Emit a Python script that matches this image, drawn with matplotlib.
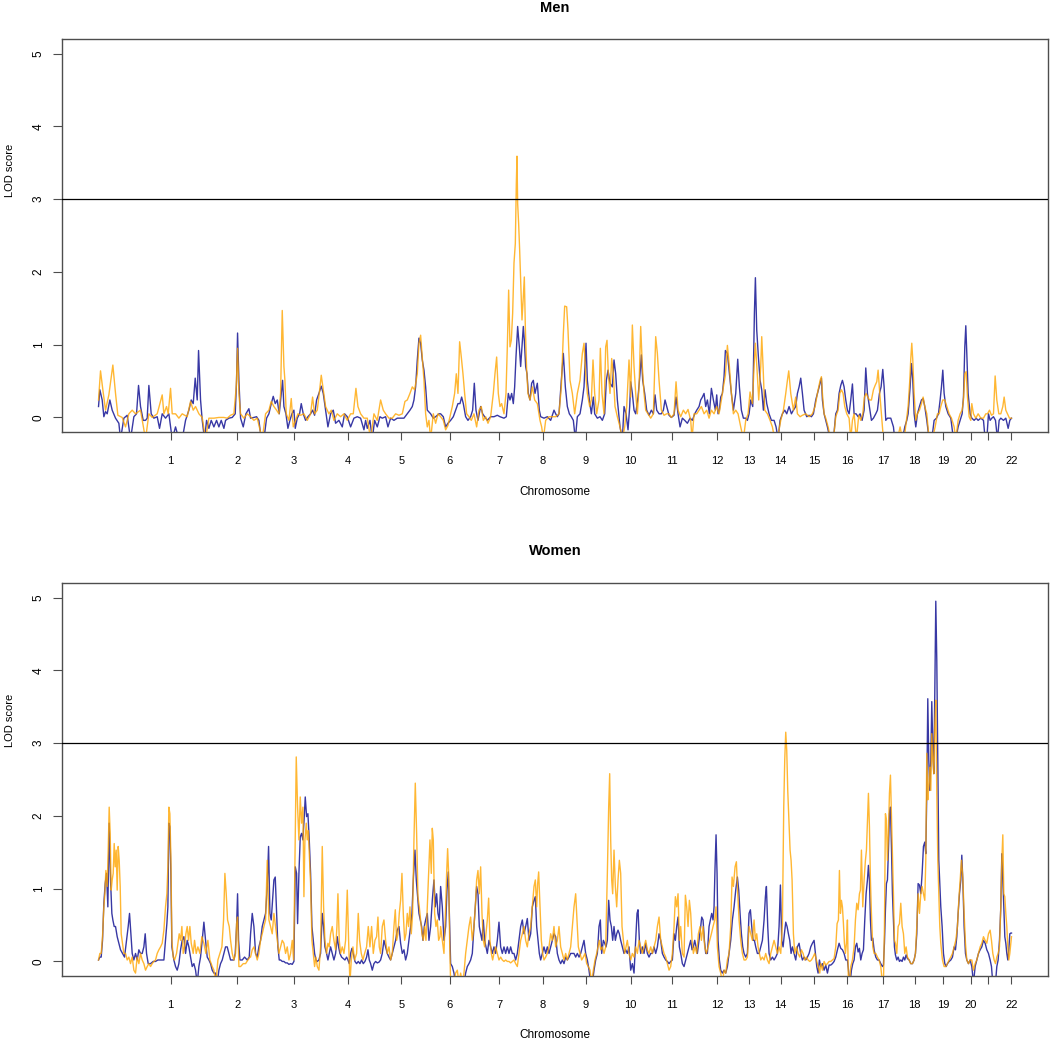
import matplotlib
matplotlib.use("Agg")
import matplotlib.pyplot as plt

plt.rcParams['font.family'] = ['Liberation Sans', 'DejaVu Sans']

# Chromosome end positions (genome position units) and labels
chrom_ends = [216, 416, 586, 748, 908, 1054, 1201, 1333, 1461, 1596, 1719, 1856,
              1951, 2046, 2146, 2246, 2354, 2448, 2533, 2616, 2669, 2738]
chrom_labels = ['1', '2', '3', '4', '5', '6', '7', '8', '9', '10', '11', '12',
                '13', '14', '15', '16', '17', '18', '19', '20', '', '22']
threshold = 3

# ---------------- Men ----------------
men_orange_pos = [
    0, 6, 13, 21, 31, 43, 51, 58, 71, 81, 91, 101, 111, 126, 141, 151, 161, 176, 191, 196,
    204, 209, 216, 221, 231, 241, 251, 266, 276, 284, 291, 301, 311, 321, 331, 346, 361, 376, 386, 396,
    406, 413, 417, 421, 426, 436, 446,
    456, 466, 476, 491, 501, 511, 518, 526, 534, 541, 546, 551, 556, 559, 563, 571, 578, 584, 591, 598,
    606, 616, 626, 636, 642, 648, 656, 662, 668, 674, 681, 691, 698, 706, 716, 726, 736, 746, 756, 764,
    772, 778, 786, 796, 806, 816, 826, 836, 846, 854, 861, 871, 881, 891, 901, 911, 919, 926, 934, 941,
    948, 956, 961, 966, 971, 976, 981, 986, 991, 996, 1004, 1011, 1018,
    1026, 1034, 1041, 1048, 1054, 1061, 1068, 1073, 1078, 1083, 1088, 1093, 1098, 1104, 1111, 1118, 1126, 1134, 1141, 1148,
    1154, 1161, 1168, 1176, 1184, 1189, 1194, 1199, 1204, 1209, 1216, 1222, 1226, 1230, 1234, 1238, 1242, 1246, 1250, 1253,
    1255, 1257, 1260, 1263, 1266, 1270, 1274, 1277, 1280, 1284, 1288, 1294, 1301, 1308, 1316, 1324, 1329, 1334, 1341, 1351,
    1361, 1371, 1381, 1388, 1394, 1398, 1404, 1408, 1414, 1421, 1428, 1436, 1444, 1451, 1456, 1461, 1466, 1473, 1478, 1483,
    1488, 1494, 1501, 1505, 1510, 1516, 1521, 1525, 1529, 1534, 1539, 1544, 1549, 1556, 1564, 1571, 1578, 1584, 1591,
    1596, 1601, 1606, 1611, 1616, 1621, 1626, 1631, 1636, 1641, 1648, 1656, 1664, 1671, 1676, 1681, 1688, 1696, 1704, 1711,
    1718, 1726, 1732, 1738, 1746, 1754, 1761, 1768, 1776, 1780, 1786, 1794, 1801, 1808, 1816, 1824, 1831, 1838, 1846, 1854,
    1861, 1868, 1874, 1880, 1886, 1892, 1898, 1904, 1911, 1918, 1926, 1934, 1941, 1948, 1954, 1961, 1966, 1970, 1975, 1980,
    1986, 1989, 1993, 1998, 2006, 2014, 2021, 2028, 2036, 2046, 2054, 2061, 2066, 2070, 2076, 2084, 2091, 2096, 2104, 2111,
    2121, 2131, 2141, 2149, 2156, 2164, 2168,
    2171, 2176, 2181, 2188, 2196, 2204, 2211, 2218, 2223, 2228, 2233, 2238, 2244, 2251, 2256, 2261, 2266, 2273, 2280, 2286,
    2292, 2297, 2302, 2307, 2312, 2318, 2324, 2329, 2334, 2338, 2343, 2348, 2354, 2361, 2371, 2381, 2396, 2404, 2411, 2416,
    2423, 2428, 2433, 2436, 2439, 2442, 2446, 2451, 2456, 2462, 2468, 2473, 2478, 2484, 2491, 2501, 2509, 2516, 2521, 2526,
    2532, 2538, 2544, 2551, 2558, 2566, 2571, 2578, 2584, 2590, 2594, 2598, 2602, 2606, 2611, 2616, 2619, 2624, 2631, 2638,
    2646, 2654, 2661, 2666, 2672, 2678, 2684, 2689, 2694, 2700, 2706, 2712, 2716, 2721, 2726, 2732, 2738]
men_orange_lod = [
    0.24, 0.64, 0.38, 0.10, 0.31, 0.72, 0.33, 0.03, 0.00, -0.13, 0.05, 0.10, 0.05, 0.10, -0.3, 0.05, 0.00, 0.05, 0.31, 0.05,
    0.15, 0.05, 0.40, 0.05, 0.05, -0.01, 0.05, 0.01, 0.22, 0.10, 0.15, 0.05, 0.00, -0.3, -0.01, -0.01, 0.00, 0.00, -0.01, 0.03,
    0.05, 0.42, 0.95, 0.33, 0.05, -0.01, 0.05,
    0.01, -0.04, -0.01, -0.3, 0.05, 0.10, 0.22, 0.15, 0.10, 0.05, 0.33, 1.47, 0.70, 0.51, 0.05, -0.04, 0.26, -0.13, -0.04, 0.05,
    0.03, 0.05, -0.04, 0.05, 0.28, 0.05, 0.10, 0.33, 0.58, 0.38, 0.15, 0.05, 0.10, -0.04, 0.05, 0.01, 0.05, -0.04, 0.05, 0.05,
    0.40, 0.15, 0.05, -0.01, -0.01, -0.3, 0.05, -0.04, 0.24, 0.10, 0.05, -0.01, -0.01, 0.05, 0.03, 0.05, 0.22, 0.24, 0.33, 0.42,
    0.38, 0.60, 1.02, 1.13, 0.83, 0.51, 0.05, -0.13, -0.04, -0.3, 0.05, -0.08, 0.05,
    0.01, -0.04, -0.17, -0.11, 0.01, 0.15, 0.33, 0.60, 0.33, 1.04, 0.83, 0.60, 0.33, 0.05, 0.01, -0.04, 0.05, -0.13, 0.10, 0.15,
    -0.04, 0.01, -0.08, 0.01, 0.33, 0.60, 0.83, 0.33, 0.15, 0.19, 0.05, 0.33, 0.97, 1.75, 0.97, 1.06, 1.43, 2.12, 2.39, 3.21,
    3.59, 2.94, 2.66, 2.30, 1.89, 1.34, 1.66, 1.93, 1.25, 0.65, 0.33, 0.24, 0.42, 0.24, 0.19, -0.04, -0.13, -0.3, -0.04, 0.01,
    0.01, 0.01, 0.05, 0.42, 1.15, 1.53, 1.52, 1.20, 0.51, 0.33, 0.05, 0.33, 0.51, 0.88, 1.02, 0.60, 0.33, 0.15, 0.24, 0.79,
    0.33, 0.05, 0.24, 0.95, 0.33, 0.05, 0.97, 1.06, 0.60, 0.33, 0.81, 0.60, 0.15, 0.01, -0.13, -0.3, -0.13, 0.15, 0.79,
    0.28, 1.27, 0.70, 0.33, 0.05, 0.42, 1.25, 0.70, 0.33, 0.10, 0.05, -0.01, 0.05, 1.11, 0.88, 0.51, 0.10, 0.03, 0.05, 0.05,
    0.00, 0.05, 0.49, 0.10, 0.01, 0.10, 0.05, 0.11, -0.04, -0.3, 0.05, 0.05, 0.10, 0.15, 0.05, 0.10, -0.01, 0.10, 0.05, 0.15,
    0.05, 0.24, 0.42, 0.58, 0.99, 0.70, 0.33, 0.05, 0.10, 0.05, -0.13, -0.3, -0.04, 0.05, 0.35, 0.19, 0.70, 1.02, 0.65, 0.24,
    0.70, 1.11, 0.70, 0.10, 0.05, -0.04, -0.13, -0.3, -0.3, -0.04, 0.10, 0.33, 0.51, 0.64, 0.33, 0.10, 0.28, 0.05, 0.01, 0.03,
    0.05, 0.01, 0.05, 0.15, 0.33, 0.51, 0.56,
    0.33, 0.05, -0.01, -0.13, -0.3, -0.3, 0.01, 0.10, 0.33, 0.38, 0.33, 0.15, 0.05, -0.01, -0.3, -0.04, 0.05, -0.3, 0.03, -0.04,
    0.05, 0.28, 0.33, 0.28, 0.24, 0.24, 0.38, 0.44, 0.49, 0.65, 0.33, 0.05, -0.3, -0.3, -0.3, -0.3, -0.3, -0.13, -0.3, -0.3,
    -0.04, 0.15, 0.51, 0.81, 1.02, 0.79, 0.33, -0.04, 0.05, 0.10, 0.19, 0.28, 0.15, 0.05, -0.3, -0.3, -0.13, 0.05, 0.05, 0.15,
    0.24, 0.24, 0.15, 0.05, -0.01, -0.13, -0.3, -0.04, 0.05, 0.10, 0.24, 0.60, 0.63, 0.28, 0.01, -0.04, 0.19, 0.05, -0.01, 0.05,
    -0.01, -0.01, 0.05, 0.05, 0.10, 0.03, 0.05, 0.57, 0.24, 0.05, 0.05, 0.15, 0.28, 0.10, 0.05, -0.01, -0.01]

men_blue_pos = [
    0, 4, 11, 16, 21, 26, 34, 41, 51, 61, 66, 76, 86, 96, 106, 114, 120, 126, 134, 141,
    146, 151, 158, 166, 176, 183, 191, 201, 211, 221, 231, 241, 251, 261, 271, 278, 284, 290, 296, 300,
    306, 311, 318, 324, 331, 338, 346, 354, 361, 368, 376, 381, 391, 401, 410, 414, 417, 421, 426, 434,
    442, 451,
    456, 466, 474, 481, 488, 496, 504, 511, 518, 524, 530, 536, 542, 548, 552, 556, 562, 568, 574, 580,
    586, 590, 596, 603, 608, 614, 621, 628, 636, 642, 648, 654, 661, 668, 674, 681, 688, 696, 704, 711,
    721, 731, 738, 746, 756, 766, 776, 786, 796, 801, 806, 814, 821, 828, 836, 844, 851, 861, 868, 876,
    886, 896, 906, 916, 926, 934, 941, 946, 951, 956, 961, 966, 971, 976, 981, 986, 996, 1004, 1011, 1021,
    1026, 1034, 1041, 1048, 1056, 1064, 1071, 1078, 1084, 1089, 1094, 1101, 1108, 1116, 1122, 1127, 1132, 1138, 1146, 1152,
    1158, 1166, 1176, 1186, 1196, 1204, 1216, 1223, 1229, 1234, 1239, 1244, 1248, 1252, 1257, 1262, 1266, 1270, 1274, 1277,
    1281, 1285, 1289, 1294, 1299, 1304, 1309, 1316, 1322, 1326, 1336, 1346, 1356, 1366, 1371, 1376, 1381, 1388, 1394, 1400,
    1406, 1412, 1418, 1424, 1430, 1436, 1444, 1451, 1456, 1462, 1466, 1472, 1478, 1484, 1488, 1496, 1504, 1511, 1518, 1523,
    1528, 1534, 1541, 1546, 1551, 1556, 1564, 1571, 1576, 1582, 1588, 1593,
    1596, 1601, 1606, 1611, 1618, 1624, 1628, 1632, 1638, 1644, 1651, 1658, 1664, 1669, 1674, 1681, 1688, 1694, 1699, 1704,
    1711, 1718, 1726, 1732, 1738, 1744, 1751, 1758, 1766, 1774, 1781, 1788, 1794, 1801, 1806, 1811, 1816, 1821, 1826, 1832,
    1838, 1844, 1850, 1854, 1858, 1862, 1866, 1871, 1876, 1880, 1886, 1892, 1898, 1904, 1911, 1917, 1922, 1928, 1934, 1941,
    1946, 1951, 1956, 1962, 1967, 1970, 1974, 1979, 1984, 1989, 1994, 1999, 2004, 2011, 2018, 2026, 2032, 2038, 2044, 2051,
    2058, 2064, 2071, 2078, 2084, 2091, 2096, 2101, 2106, 2111, 2116, 2124, 2131, 2138, 2144, 2151, 2156, 2161, 2168,
    2171, 2176, 2181, 2186, 2194, 2204, 2211, 2216, 2221, 2226, 2231, 2236, 2241, 2246, 2251, 2256, 2261, 2266, 2272, 2278,
    2284, 2290, 2296, 2301, 2306, 2312, 2318, 2324, 2331, 2336, 2342, 2347, 2352, 2356, 2361, 2366, 2376, 2384, 2388, 2411,
    2418, 2424, 2428, 2434, 2438, 2442, 2446, 2451, 2456, 2462, 2468, 2473, 2478, 2484, 2491, 2499, 2506, 2513, 2519, 2524,
    2528, 2532, 2536, 2541, 2548, 2556, 2564, 2571, 2578, 2584, 2590, 2594, 2598, 2601, 2604, 2608, 2614, 2619, 2626, 2632,
    2638, 2646, 2654, 2659, 2664, 2669, 2674, 2679, 2684, 2690, 2696, 2701, 2706, 2714, 2721, 2728, 2733, 2738]
men_blue_lod = [
    0.15, 0.38, 0.24, 0.01, 0.08, 0.05, 0.24, 0.10, -0.01, -0.08, -0.3, -0.01, 0.03, -0.3, 0.01, 0.05, 0.44, 0.15, -0.04, -0.04,
    -0.01, 0.44, 0.05, -0.01, 0.01, -0.15, 0.05, -0.01, 0.05, -0.3, -0.13, -0.3, -0.3, -0.04, 0.10, 0.24, 0.19, 0.54, 0.24, 0.92,
    0.24, -0.04, -0.3, -0.04, -0.15, -0.04, -0.13, -0.04, -0.13, -0.04, -0.15, -0.04, -0.01, 0.00, 0.05, 0.51, 1.16, 0.51, -0.01, -0.13,
    0.05, 0.12,
    -0.01, 0.00, 0.01, -0.04, -0.3, -0.3, -0.01, 0.05, 0.19, 0.29, 0.19, 0.24, 0.05, 0.33, 0.51, 0.15, 0.05, -0.15, -0.04, 0.05,
    0.10, -0.15, -0.01, 0.05, 0.19, 0.05, -0.04, 0.01, 0.05, 0.10, 0.03, 0.24, 0.33, 0.43, 0.33, 0.10, -0.13, 0.05, 0.10, -0.08,
    -0.04, -0.13, 0.05, 0.01, -0.13, -0.01, 0.01, -0.01, -0.17, -0.04, -0.15, -0.04, -0.3, -0.04, -0.13, 0.01, -0.01, 0.01, -0.13, -0.01,
    -0.04, -0.01, -0.01, -0.01, 0.05, 0.10, 0.15, 0.24, 0.42, 0.79, 1.09, 1.02, 0.79, 0.65, 0.42, 0.10, 0.05, -0.01, 0.01, 0.05,
    0.05, 0.01, -0.13, -0.08, -0.04, 0.01, 0.10, 0.19, 0.19, 0.28, 0.19, 0.01, -0.04, 0.01, 0.10, 0.47, 0.10, -0.04, 0.15, 0.05,
    0.01, -0.04, 0.01, 0.01, 0.03, 0.01, -0.01, 0.01, 0.33, 0.24, 0.33, 0.19, 0.42, 0.83, 1.25, 0.97, 0.70, 0.97, 1.25, 1.06,
    0.70, 0.60, 0.33, 0.24, 0.47, 0.51, 0.33, 0.47, 0.10, 0.01, -0.01, 0.01, -0.04, 0.10, 0.05, 0.01, 0.05, 0.51, 0.88, 0.42,
    0.15, 0.05, 0.01, -0.04, -0.3, 0.01, 0.05, 0.24, 0.42, 1.02, 0.51, 0.24, 0.05, 0.28, 0.05, -0.01, 0.01, -0.04, 0.05, 0.51,
    0.65, 0.47, 0.42, 0.79, 0.60, 0.24, -0.13, -0.3, 0.15, 0.05, -0.17, 0.15,
    0.49, 0.33, 0.10, 0.05, 0.28, 0.60, 0.86, 0.51, 0.33, 0.10, 0.03, 0.10, 0.05, 0.31, 0.10, 0.05, 0.05, 0.10, 0.24, 0.15,
    0.03, 0.00, 0.03, 0.28, 0.05, -0.13, -0.01, -0.04, -0.08, -0.01, -0.04, 0.05, 0.10, 0.15, 0.24, 0.28, 0.33, 0.15, 0.24, 0.05,
    0.40, 0.24, 0.10, 0.31, 0.05, 0.10, 0.28, 0.33, 0.56, 0.92, 0.88, 0.60, 0.33, 0.10, 0.33, 0.80, 0.42, 0.10, -0.01, -0.01,
    -0.04, 0.05, 0.24, 0.15, 1.43, 1.92, 1.20, 0.83, 0.51, 0.38, 0.10, 0.38, 0.19, 0.05, -0.04, -0.04, -0.13, -0.3, -0.04, 0.05,
    0.10, 0.05, 0.15, 0.05, 0.10, 0.15, 0.33, 0.42, 0.54, 0.33, 0.10, 0.01, 0.03, 0.01, 0.05, 0.24, 0.33, 0.42, 0.54,
    0.24, 0.05, -0.04, -0.13, -0.3, -0.3, 0.05, 0.10, 0.33, 0.44, 0.51, 0.42, 0.24, 0.10, 0.05, 0.24, 0.46, 0.05, 0.05, 0.01,
    0.05, -0.04, 0.10, 0.68, 0.33, 0.15, -0.04, -0.01, 0.05, 0.10, 0.33, 0.42, 0.66, 0.42, -0.04, -0.01, -0.01, -0.13, -0.3, -0.3,
    -0.13, -0.04, 0.05, 0.42, 0.74, 0.51, 0.05, -0.13, 0.05, 0.15, 0.24, 0.26, 0.15, -0.04, -0.3, -0.3, -0.04, -0.01, 0.05, 0.24,
    0.42, 0.65, 0.33, 0.15, 0.05, -0.01, -0.3, -0.3, -0.13, -0.04, 0.05, 0.28, 0.97, 1.26, 0.88, 0.33, 0.05, -0.01, -0.04, -0.01,
    -0.04, -0.01, -0.04, -0.3, -0.3, 0.05, -0.04, -0.01, 0.01, -0.04, -0.3, -0.04, -0.01, -0.04, -0.01, -0.15, -0.04, -0.01]

# ---------------- Women ----------------
women_orange_pos = [
    0, 4, 8, 12, 16, 19, 22, 26, 29, 32, 35, 38, 41, 44, 47, 50, 53, 56, 59, 62,
    65, 68, 72, 76, 81, 86, 91, 96, 101, 106, 111, 116, 121, 126, 131, 136, 141, 146, 151, 156,
    161, 166, 171, 176, 181, 186, 191, 196, 201, 205, 208, 211, 214, 217, 220, 224, 228, 234, 238, 242,
    246, 250, 254, 258, 262, 266, 270, 274, 278, 284, 288, 293, 298, 304, 310, 316, 322, 328, 334, 341,
    346, 352, 358, 364, 370, 375, 379, 383, 387, 392, 396, 401, 406, 411, 414, 417, 421, 426, 434, 441,
    448, 454,
    456, 461, 466, 471, 476, 481, 486, 491, 496, 501, 506, 511, 516, 521, 526, 531, 536, 541, 546, 551,
    556, 561, 566, 571, 576, 581, 585, 589, 593, 597, 601, 605, 609, 613, 616, 619, 623, 626, 629, 632,
    636, 640, 644, 648, 652, 656, 661, 666, 671, 675, 679, 684, 688, 692, 696, 701, 706, 711, 715, 718,
    722, 726, 731, 736, 741, 746, 750, 754, 758, 763, 768, 774, 779, 783, 788, 793, 798, 804, 809, 814,
    819, 824, 829, 834, 838, 842, 846, 851, 856, 861, 866, 871, 876, 881, 886, 890, 894, 898, 902, 906,
    910, 914, 918, 922, 926, 930, 934, 938, 942, 946, 950, 954, 958, 962, 966, 970, 974, 978, 982, 986,
    990, 994, 998, 1001, 1004, 1008, 1012, 1016, 1020, 1024,
    1026, 1031, 1036, 1041, 1044, 1047, 1050, 1053, 1056, 1066, 1071, 1076, 1081, 1086, 1091, 1096, 1101, 1106, 1111, 1116,
    1121, 1126, 1130, 1134, 1138, 1142, 1146, 1150, 1154, 1158, 1162, 1166, 1170, 1174, 1178, 1182, 1186, 1191, 1196, 1201,
    1206, 1211, 1216, 1221, 1226, 1231, 1236, 1241, 1246, 1251, 1256, 1261, 1266, 1271, 1276, 1281, 1286, 1291, 1296, 1301,
    1306, 1310, 1314, 1317, 1320, 1324, 1328, 1332, 1336, 1341, 1346, 1351, 1356, 1361, 1366, 1371, 1376, 1381, 1386, 1391,
    1396, 1401, 1406, 1411, 1416, 1421, 1426, 1431, 1435, 1439, 1444, 1449, 1454, 1459, 1464, 1469, 1474, 1479, 1484, 1489,
    1494, 1498, 1502, 1506, 1511, 1516, 1521, 1526, 1530, 1533, 1536, 1539, 1542, 1546, 1550, 1554, 1558, 1562, 1566, 1570,
    1574, 1578, 1582, 1586, 1591,
    1596, 1601, 1606, 1611, 1616, 1621, 1626, 1631, 1636, 1641, 1646, 1651, 1656, 1661, 1666, 1671, 1676, 1681, 1686, 1691,
    1696, 1701, 1706, 1711, 1716, 1721, 1726, 1730, 1734, 1738, 1742, 1746, 1751, 1756, 1760, 1764, 1768, 1772, 1776, 1780,
    1784, 1789, 1794, 1799, 1804, 1808, 1813, 1818, 1823, 1828, 1833, 1838, 1843, 1848, 1852, 1856, 1861, 1866, 1871, 1876,
    1881, 1886, 1891, 1896, 1900, 1904, 1909, 1913, 1917, 1921, 1926, 1931, 1936, 1941, 1946, 1951, 1956, 1961, 1966, 1970,
    1974, 1978, 1982, 1986, 1991, 1996, 2001, 2006, 2011, 2016, 2021, 2026, 2031, 2036, 2041, 2046, 2051, 2055, 2058, 2061,
    2064, 2067, 2070, 2074, 2077, 2080, 2084, 2088, 2093, 2098, 2103, 2108, 2113, 2118, 2123, 2128, 2133, 2138, 2143, 2148,
    2153, 2158, 2163,
    2166, 2171, 2176, 2181, 2186, 2191, 2196, 2201, 2206, 2211, 2215, 2219, 2222, 2225, 2228, 2231, 2234, 2237, 2240, 2243,
    2246, 2249, 2252, 2256, 2261, 2266, 2270, 2274, 2278, 2282, 2285, 2288, 2292, 2296, 2300, 2303, 2306, 2309, 2312, 2315,
    2318, 2322, 2326, 2331, 2336, 2341, 2346, 2351, 2354, 2357, 2360, 2363, 2366, 2369, 2372, 2375, 2378, 2381, 2384, 2387,
    2390, 2394, 2398, 2402, 2406, 2410, 2414, 2418, 2422, 2426, 2431, 2436, 2441, 2446, 2450, 2454, 2458, 2462, 2466, 2470,
    2474, 2478, 2481, 2484, 2487, 2490, 2493, 2496, 2499, 2502, 2505, 2508, 2511, 2514, 2517, 2520, 2523, 2526, 2531, 2536,
    2541, 2546, 2551, 2556, 2561, 2566, 2571, 2576, 2580, 2584, 2588, 2592, 2596, 2600, 2604, 2609, 2614, 2619, 2624, 2629,
    2634, 2639, 2644, 2649, 2654, 2659, 2664, 2669, 2674, 2678, 2682, 2686, 2690, 2694, 2698, 2702, 2706, 2709, 2712, 2715,
    2718, 2721, 2724, 2727, 2730, 2733, 2736, 2738]
women_orange_lod = [
    0.02, 0.11, 0.11, 0.34, 0.75, 0.93, 1.25, 1.03, 1.53, 2.12, 1.76, 0.98, 1.12, 1.21, 1.62, 1.30, 1.53, 0.98, 1.58, 1.39,
    1.03, 0.38, 0.25, 0.11, 0.11, 0.02, 0.06, -0.03, 0.06, -0.12, -0.16, 0.06, -0.03, 0.11, 0.02, -0.03, -0.12, -0.07, -0.03, -0.07,
    -0.03, 0.00, 0.02, 0.11, 0.16, 0.20, 0.25, 0.43, 0.75, 0.93, 1.30, 2.12, 2.03, 1.44, 0.29, 0.06, 0.02, 0.11, 0.25, 0.38,
    0.29, 0.48, 0.11, 0.20, 0.38, 0.48, 0.29, 0.48, 0.25, 0.11, 0.29, 0.11, 0.20, 0.11, 0.34, 0.25, 0.11, 0.29, 0.02, -0.07,
    -0.12, -0.3, 0.02, 0.11, 0.20, 0.57, 1.21, 0.93, 0.57, 0.48, 0.29, 0.11, 0.02, 0.11, 0.52, 0.61, -0.07, -0.07, -0.03, -0.03,
    0.02, 0.06,
    0.06, 0.16, 0.20, 0.11, 0.02, 0.11, 0.29, 0.38, 0.48, 0.57, 1.39, 0.57, 0.48, 0.38, 0.66, 0.48, 0.29, 0.11, 0.20, 0.29,
    0.25, 0.11, 0.20, 0.02, 0.11, 0.29, 0.02, 1.35, 2.81, 2.12, 1.67, 2.26, 1.90, 2.12, 0.89, 1.67, 1.90, 1.67, 1.80, 1.48,
    1.07, 0.29, 0.11, -0.07, 0.06, -0.07, -0.12, 0.20, 1.58, 0.75, 0.29, 0.11, 0.25, 0.20, 0.38, 0.48, 0.29, 0.16, 0.48, 0.93,
    0.29, 0.11, 0.20, 0.11, 0.29, 0.98, 0.29, -0.3, 0.02, 0.20, 0.02, 0.11, 0.66, 0.29, 0.11, 0.02, 0.11, 0.20, 0.48, 0.20,
    0.48, 0.11, 0.29, 0.34, 0.61, 0.20, 0.11, 0.48, 0.57, 0.29, 0.11, 0.20, 0.02, 0.11, 0.48, 0.71, 0.29, 0.38, 0.66, 0.84,
    1.21, 0.66, 0.29, 0.38, 0.66, 0.48, 0.75, 0.38, 0.66, 1.67, 2.45, 1.76, 0.89, 0.75, 0.57, 0.38, 0.29, 0.48, 0.29, 0.75,
    1.21, 1.67, 1.21, 1.83, 1.67, 0.66, 0.48, 0.57, 0.29, 0.34,
    0.48, 0.29, 0.11, 0.75, 1.21, 1.55, 1.21, 0.29, -0.3, -0.3, -0.16, -0.12, -0.3, -0.16, -0.3, -0.16, 0.11, 0.29, 0.48, 0.61,
    0.29, 0.48, 0.75, 1.12, 1.25, 0.93, 1.30, 0.66, 0.29, 0.20, 0.38, 0.57, 0.87, 0.29, 0.11, 0.02, 0.11, 0.20, 0.11, 0.02,
    0.06, 0.02, 0.00, 0.02, 0.00, 0.00, -0.02, 0.00, 0.02, -0.03, -0.07, 0.11, 0.29, 0.38, 0.48, 0.29, 0.20, 0.38, 0.48, 0.75,
    1.03, 1.12, 0.75, 1.07, 1.23, 0.75, 0.29, 0.11, 0.02, 0.06, 0.11, 0.20, 0.38, 0.29, 0.48, 0.20, 0.29, 0.48, 0.20, 0.11,
    0.02, 0.11, 0.02, 0.11, 0.20, 0.48, 0.75, 0.93, 0.57, 0.20, 0.11, 0.02, 0.06, 0.11, -0.03, -0.07, -0.12, -0.3, -0.12, 0.02,
    0.11, 0.20, 0.29, 0.16, 0.20, 0.11, 0.20, 1.21, 2.12, 2.58, 1.67, 1.12, 0.93, 1.53, 1.03, 0.75, 1.12, 1.39, 1.21, 0.48,
    0.29, 0.11, 0.20, 0.29, 0.11,
    0.02, 0.11, 0.06, 0.20, 0.11, 0.29, 0.20, 0.11, 0.20, 0.29, 0.16, 0.11, 0.20, 0.11, 0.20, 0.29, 0.48, 0.61, 0.29, 0.20,
    0.11, 0.06, -0.03, -0.12, -0.07, 0.11, 0.48, 0.89, 0.75, 0.93, 0.29, 0.48, 0.11, 0.06, 0.91, 0.75, 0.48, 0.84, 0.66, 0.29,
    0.11, 0.20, 0.11, 0.38, 0.48, 0.29, 0.48, 0.20, 0.11, 0.20, 0.29, 0.38, 0.48, 0.57, 0.75, 0.20, -0.07, -0.16, -0.3, -0.12,
    -0.16, 0.02, 0.11, 0.48, 1.16, 1.03, 1.30, 1.37, 0.93, 0.57, 0.29, 0.11, 0.02, 0.02, 0.06, 0.48, 0.38, 0.29, 0.57, 0.29,
    0.38, 0.20, 0.11, 0.02, 0.06, 0.02, 0.11, 0.02, -0.03, 0.11, 0.20, 0.29, 0.20, 0.11, 0.20, 0.11, 0.52, 2.12, 2.77, 3.15,
    2.90, 2.35, 1.99, 1.53, 1.39, 1.12, 0.38, 0.11, 0.20, 0.11, 0.06, 0.16, 0.11, 0.02, 0.06, 0.02, 0.00, 0.02, 0.06, 0.11,
    0.02, -0.07, -0.16,
    -0.03, -0.12, 0.00, -0.05, -0.03, 0.00, 0.00, 0.02, 0.04, 0.20, 0.52, 0.57, 1.25, 0.66, 0.84, 0.75, 0.52, 0.25, 0.11, 0.25,
    0.57, -0.3, -0.3, -0.07, 0.02, 0.20, 0.57, 0.80, 0.71, 0.93, 0.98, 1.53, 0.75, 1.12, 1.39, 1.53, 1.94, 2.31, 1.85, 1.12,
    0.66, 0.20, 0.11, 0.11, 0.06, 0.02, -0.07, -0.3, -0.3, 0.48, 2.03, 1.94, 1.39, 1.76, 2.31, 2.56, 2.03, 1.48, 0.93, 0.29,
    0.25, 0.11, 0.48, 0.52, 0.80, 0.48, 0.38, 0.11, 0.20, 0.06, 0.02, -0.03, -0.03, 0.02, 0.11, 0.48, 0.93, 0.66, 0.93, 1.03,
    0.93, 0.84, 1.39, 2.86, 2.22, 2.40, 2.67, 2.35, 3.13, 2.77, 2.58, 3.22, 3.59, 2.31, 1.39, 0.93, 0.48, 0.25, 0.02, -0.07,
    -0.07, -0.03, 0.02, 0.06, 0.11, 0.20, 0.29, 0.48, 0.84, 1.12, 1.39, 1.16, 0.66, 0.25, 0.02, -0.03, 0.02, 0.02, -0.12, -0.03,
    0.02, 0.11, 0.20, 0.25, 0.34, 0.29, 0.25, 0.38, 0.43, 0.29, 0.11, 0.02, -0.03, 0.06, 0.11, 0.20, 0.75, 1.39, 1.74, 0.93,
    0.89, 0.66, 0.48, 0.20, 0.02, 0.11, 0.25, 0.34]

women_blue_pos = [
    0, 4, 8, 12, 16, 20, 24, 28, 32, 36, 40, 43, 47, 51, 56, 61, 66, 72, 78, 84,
    89, 93, 97, 101, 106, 111, 116, 121, 126, 131, 136, 140, 144, 149, 156, 164, 171, 178, 184, 191,
    196, 201, 205, 208, 211, 214, 217, 220, 226, 231, 236, 241, 246, 251, 256, 261, 266, 271, 276, 281,
    286, 291, 296, 301, 306, 311, 316, 321, 326, 331, 336, 341, 346, 351, 356, 361, 366, 371, 376, 381,
    386, 391, 396, 401, 406, 410, 414, 417, 420, 424, 431, 438, 446, 452,
    456, 461, 466, 471, 476, 481, 486, 491, 496, 501, 506, 510, 514, 518, 522, 526, 530, 534, 538, 542,
    546, 551, 556, 561, 566, 571, 576, 581, 586, 590, 594, 597, 601, 605, 609, 613, 617, 620, 624, 628,
    632, 636, 640, 644, 648, 652, 656, 661, 666, 671, 675, 679, 684, 688, 692, 696, 701, 706, 711, 716,
    720, 724, 729, 734, 739, 744, 748, 752, 756, 760, 764, 769, 774, 779, 784, 789, 794, 799, 804, 808,
    812, 816, 821, 826, 831, 836, 841, 846, 851, 856, 861, 866, 871, 876, 881, 886, 891, 896, 901, 906,
    911, 916, 921, 926, 931, 936, 940, 944, 949, 953, 957, 961, 965, 969, 973, 977, 981, 986, 991, 996,
    1001, 1006, 1010, 1014, 1018, 1022,
    1026, 1031, 1036, 1041, 1045, 1049, 1053, 1056, 1061, 1066, 1071, 1096, 1101, 1106, 1111, 1116, 1121, 1126, 1130, 1134,
    1138, 1142, 1146, 1150, 1154, 1158, 1162, 1166, 1171, 1176, 1181, 1186, 1191, 1196, 1201, 1206, 1211, 1216, 1221, 1226,
    1231, 1236, 1241, 1246, 1251, 1256, 1261, 1266, 1271, 1276, 1281, 1286, 1291, 1296, 1301, 1306, 1310, 1314, 1318, 1322,
    1326, 1331, 1336, 1341, 1346, 1351, 1356, 1361, 1366, 1371, 1376, 1381, 1386, 1391, 1396, 1401, 1406, 1411, 1416, 1426,
    1431, 1436, 1441, 1446, 1451, 1456, 1461, 1466, 1471, 1476, 1481, 1486, 1491, 1496, 1501, 1505, 1509, 1514, 1518, 1522,
    1526, 1530, 1534, 1538, 1542, 1546, 1550, 1554, 1558, 1562, 1566, 1571, 1576, 1581, 1586, 1591,
    1596, 1601, 1606, 1611, 1615, 1618, 1622, 1626, 1631, 1636, 1641, 1646, 1651, 1656, 1661, 1666, 1671, 1676, 1681, 1686,
    1691, 1696, 1701, 1706, 1711, 1716, 1721, 1726, 1730, 1734, 1738, 1742, 1746, 1751, 1756, 1761, 1766, 1771, 1776, 1780,
    1784, 1788, 1792, 1796, 1801, 1806, 1809, 1813, 1817, 1821, 1826, 1831, 1835, 1839, 1843, 1846, 1849, 1852, 1855, 1858,
    1862, 1866, 1871, 1876, 1881, 1886, 1891, 1896, 1901, 1906, 1911, 1916, 1920, 1924, 1928, 1932, 1936, 1941, 1946, 1951,
    1955, 1959, 1963, 1967, 1971, 1976, 1981, 1986, 1991, 1996, 2000, 2003, 2007, 2011, 2016, 2021, 2026, 2031, 2036, 2041,
    2045, 2049, 2053, 2057, 2061, 2065, 2069, 2073, 2077, 2081, 2086, 2091, 2096, 2101, 2106, 2111, 2116, 2121, 2126, 2131,
    2136, 2141, 2146, 2150, 2154, 2158, 2162,
    2166, 2171, 2176, 2181, 2186, 2191, 2196, 2201, 2206, 2211, 2216, 2221, 2226, 2231, 2236, 2241, 2246, 2250, 2254, 2258,
    2262, 2266, 2270, 2274, 2278, 2282, 2286, 2290, 2294, 2298, 2302, 2306, 2309, 2312, 2315, 2318, 2322, 2326, 2331, 2336,
    2341, 2346, 2351, 2354, 2357, 2360, 2363, 2366, 2369, 2372, 2375, 2378, 2381, 2384, 2387, 2390, 2394, 2398, 2402, 2406,
    2410, 2414, 2418, 2422, 2426, 2431, 2436, 2441, 2446, 2450, 2454, 2458, 2462, 2466, 2470, 2474, 2478, 2481, 2484, 2487,
    2490, 2493, 2496, 2499, 2502, 2505, 2508, 2511, 2514, 2517, 2520, 2523, 2526, 2530, 2534, 2538, 2542, 2546, 2551, 2556,
    2561, 2566, 2570, 2574, 2578, 2582, 2586, 2589, 2592, 2596, 2600, 2604, 2609, 2614, 2619, 2624, 2629, 2634, 2639, 2644,
    2649, 2654, 2659, 2664, 2669, 2674, 2678, 2682, 2690, 2694, 2698, 2702, 2706, 2709, 2712, 2715, 2718, 2721, 2724, 2727,
    2730, 2733, 2736, 2738]
women_blue_lod = [
    0.02, 0.06, 0.06, 0.29, 0.80, 1.07, 1.21, 0.75, 1.90, 1.12, 0.66, 0.57, 0.48, 0.48, 0.34, 0.25, 0.16, 0.11, 0.06, 0.29,
    0.48, 0.66, 0.38, 0.11, 0.02, 0.11, 0.02, 0.16, 0.11, 0.11, 0.20, 0.38, 0.11, -0.03, -0.03, 0.00, 0.00, 0.02, 0.02, 0.02,
    0.02, 0.29, 0.52, 0.75, 1.90, 1.85, 1.21, 0.20, 0.02, -0.07, -0.12, -0.03, 0.16, 0.29, 0.34, 0.11, 0.29, 0.20, 0.06, -0.07,
    -0.03, -0.12, -0.3, -0.07, 0.06, 0.29, 0.54, 0.29, 0.06, 0.02, -0.03, -0.12, -0.16, -0.16, -0.3, -0.12, -0.03, 0.02, 0.11, 0.20,
    0.20, 0.11, 0.02, 0.02, 0.02, 0.11, 0.48, 0.93, 0.29, 0.02, 0.02, 0.06, 0.02, 0.06,
    0.38, 0.66, 0.48, 0.11, 0.06, 0.20, 0.29, 0.48, 0.57, 0.66, 1.03, 1.58, 0.66, 0.57, 0.84, 1.12, 1.16, 0.66, 0.20, 0.02,
    0.02, 0.00, 0.00, -0.02, -0.02, -0.04, -0.03, -0.04, 0.00, 1.30, 1.21, 0.52, 1.21, 1.71, 1.76, 1.67, 1.99, 2.26, 1.99, 2.03,
    1.67, 1.21, 0.48, 0.29, 0.11, 0.02, 0.00, 0.02, 0.11, 0.66, 0.48, 0.20, 0.11, 0.02, 0.11, 0.20, 0.11, 0.02, 0.11, 0.34,
    0.20, 0.11, 0.06, 0.04, 0.02, 0.06, 0.02, -0.03, 0.11, 0.18, 0.11, 0.00, -0.03, 0.00, -0.03, 0.02, -0.03, 0.00, 0.06, 0.16,
    0.02, -0.03, -0.12, -0.03, 0.00, -0.02, -0.01, 0.02, 0.11, 0.29, 0.20, 0.11, 0.06, 0.02, 0.11, 0.20, 0.29, 0.43, 0.48, 0.25,
    0.11, 0.16, 0.02, 0.11, 0.29, 0.48, 0.66, 1.12, 1.53, 1.12, 0.89, 0.66, 0.57, 0.48, 0.29, 0.48, 0.57, 0.66, 0.29, 0.48,
    0.84, 1.12, 0.75, 0.93, 0.66, 0.57,
    1.03, 0.75, 0.29, 0.48, 0.98, 1.23, 0.48, -0.03, -0.07, -0.16, -0.3, -0.3, -0.16, -0.07, -0.03, 0.02, 0.11, 0.48, 0.75, 1.03,
    0.93, 0.48, 0.38, 0.29, 0.57, 0.29, 0.20, 0.11, 0.29, 0.20, 0.11, 0.20, 0.11, 0.29, 0.54, 0.20, 0.11, 0.20, 0.11, 0.20,
    0.11, 0.20, 0.11, 0.11, 0.02, 0.11, 0.29, 0.48, 0.57, 0.38, 0.48, 0.59, 0.29, 0.38, 0.75, 0.84, 0.89, 0.48, 0.29, 0.11,
    0.02, 0.11, 0.20, 0.11, 0.20, 0.11, 0.20, 0.29, 0.38, 0.34, 0.11, 0.02, -0.03, 0.02, -0.03, 0.06, 0.02, 0.06, 0.11, 0.11,
    0.06, 0.11, 0.06, 0.11, 0.20, 0.29, 0.11, 0.02, -0.12, -0.3, -0.3, -0.12, 0.02, 0.11, 0.48, 0.57, 0.11, 0.29, 0.25, 0.20,
    0.29, 0.84, 0.57, 0.48, 0.29, 0.48, 0.29, 0.38, 0.43, 0.38, 0.29, 0.20, 0.11, 0.16, 0.11, 0.20,
    -0.12, -0.03, -0.16, 0.29, 0.66, 0.71, 0.29, 0.11, 0.20, 0.11, 0.25, 0.11, 0.06, 0.11, 0.11, 0.20, 0.11, 0.20, 0.38, 0.29,
    0.11, 0.06, 0.02, 0.00, -0.03, 0.00, 0.02, 0.38, 0.29, 0.48, 0.61, 0.20, 0.11, -0.03, -0.07, 0.02, 0.11, 0.20, 0.29, 0.16,
    0.20, 0.29, 0.20, 0.11, 0.29, 0.48, 0.61, 0.57, 0.29, 0.11, 0.11, 0.48, 0.57, 0.66, 0.57, 0.75, 1.30, 1.74, 1.21, 0.29,
    0.02, -0.12, -0.16, -0.12, -0.16, -0.07, 0.11, 0.29, 0.57, 0.75, 0.98, 1.16, 0.98, 0.66, 0.38, 0.20, 0.11, 0.06, 0.11, 0.66,
    0.71, 0.48, 0.29, 0.29, 0.20, 0.11, 0.11, 0.20, 0.29, 0.57, 0.89, 1.03, 0.48, 0.11, 0.02, 0.06, 0.02, 0.06, 0.11, 0.48,
    1.05, 0.29, 0.20, 0.38, 0.54, 0.48, 0.38, 0.29, 0.11, 0.20, 0.11, 0.02, 0.20, 0.25, 0.11, 0.02, 0.06, 0.02, 0.06, 0.11,
    0.20, 0.25, 0.29, 0.11, -0.07, -0.16, 0.02,
    -0.07, -0.03, -0.12, -0.05, -0.16, -0.05, -0.05, -0.03, 0.00, 0.06, 0.16, 0.25, 0.18, 0.16, 0.11, 0.02, 0.02, -0.16, -0.3, -0.12,
    -0.03, 0.02, 0.20, 0.25, 0.13, 0.18, 0.02, 0.11, 0.16, 0.57, 0.93, 1.12, 1.32, 1.12, 0.57, 0.29, 0.32, 0.16, 0.06, 0.02,
    0.02, -0.03, -0.07, -0.05, 0.25, 0.71, 1.07, 1.12, 1.53, 2.03, 2.12, 1.58, 0.93, 0.57, 0.20, 0.09, 0.02, 0.06, 0.00, 0.02,
    0.00, 0.06, 0.02, 0.09, 0.04, 0.02, -0.03, -0.03, 0.02, 0.11, 0.38, 1.07, 1.05, 0.93, 1.21, 1.58, 1.64, 1.48, 2.31, 3.61,
    2.77, 2.35, 2.77, 3.57, 2.95, 2.58, 3.68, 4.95, 4.14, 2.77, 1.39, 1.07, 0.75, 0.48, 0.11, -0.03, -0.07, -0.03, 0.00, 0.02,
    0.06, 0.20, 0.16, 0.34, 0.66, 0.93, 1.12, 1.46, 1.12, 0.48, 0.11, 0.02, -0.03, 0.02, -0.07, -0.3, -0.07, 0.02, 0.11, 0.16,
    0.20, 0.29, 0.25, 0.16, 0.11, 0.02, -0.07, -0.3, -0.3, -0.07, 0.02, 0.29, 0.75, 1.48, 1.12, 0.75, 0.34, 0.25, 0.11, 0.02,
    0.16, 0.38, 0.39, 0.39]

panels = [
    ("Men", men_blue_pos, men_blue_lod, men_orange_pos, men_orange_lod),
    ("Women", women_blue_pos, women_blue_lod, women_orange_pos, women_orange_lod),
]

W, H = 1050, 1042
fig = plt.figure(figsize=(W / 100, H / 100), dpi=100)

# axes boxes in pixel coordinates: (left, top, right, bottom)
boxes = [(62, 39, 1048, 432), (62, 583, 1048, 976)]
title_y = [8, 551]
xlabel_y = [492, 1035]
ylabel_y = [170, 720]

BLUE = "#00008B"
ORANGE = "#FFA500"
FRAME = "#4d4d4d"

span = chrom_ends[-1]
for (name, bpos, blod, opos, olod), (l, t, r, b), ty, xy, yy in zip(panels, boxes, title_y, xlabel_y, ylabel_y):
    ax = fig.add_axes([l / W, 1 - b / H, (r - l) / W, (b - t) / H])
    ax.plot(bpos, blod, color=BLUE, lw=1.0, alpha=0.78, zorder=2)
    ax.plot(opos, olod, color=ORANGE, lw=1.0, alpha=0.8, zorder=3)
    ax.axhline(threshold, color="black", lw=0.9, zorder=4)
    ax.set_xlim(-0.04 * span, 1.04 * span)
    ax.set_ylim(-0.2, 5.2)
    ax.set_xticks(chrom_ends)
    ax.set_xticklabels(chrom_labels, fontsize=8)
    ax.set_yticks([0, 1, 2, 3, 4, 5])
    ax.set_yticklabels(['0', '1', '2', '3', '4', '5'], fontsize=8.5, rotation=90, va='center')
    ax.tick_params(axis='x', direction='out', length=5.5, width=0.8, color=FRAME, pad=12)
    ax.tick_params(axis='y', direction='out', length=6.5, width=0.8, color=FRAME, pad=6)
    for s in ax.spines.values():
        s.set_color(FRAME)
        s.set_linewidth(1.0)
    fig.text((l + r) / 2 / W, 1 - ty / H, name, ha='center', va='center',
             fontsize=10.5, fontweight='bold')
    fig.text((l + r) / 2 / W, 1 - xy / H, "Chromosome", ha='center', va='center', fontsize=8.5)
    fig.text(10 / W, 1 - yy / H, "LOD score", ha='center', va='center', rotation=90, fontsize=8)

fig.savefig("out.png", dpi=100)
